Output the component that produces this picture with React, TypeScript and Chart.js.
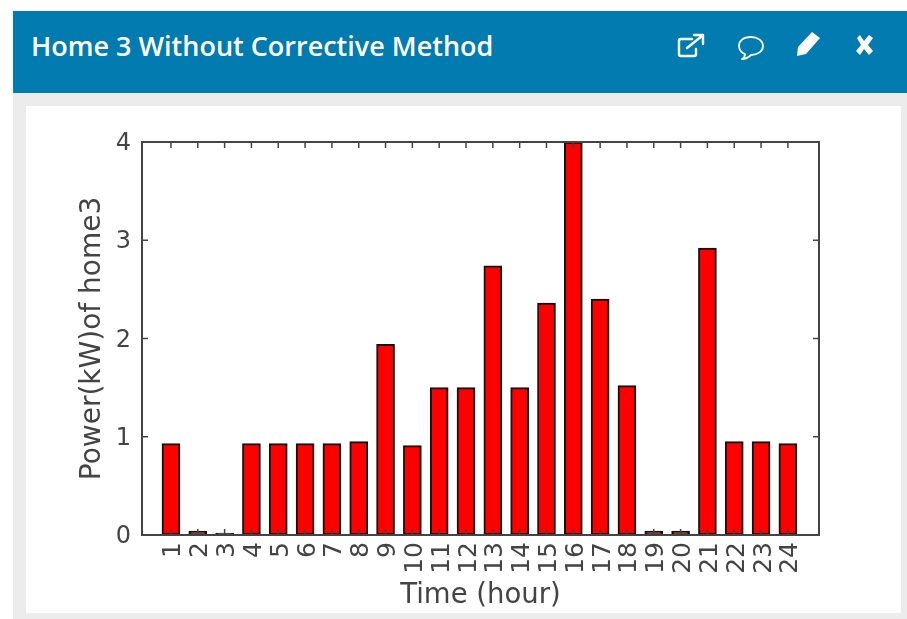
import React, { useEffect, useRef } from "react";
import { Chart, registerables } from "chart.js";

Chart.register(...registerables);

const hours = [1, 2, 3, 4, 5, 6, 7, 8, 9, 10, 11, 12, 13, 14, 15, 16, 17, 18, 19, 20, 21, 22, 23, 24];
const power = [0.93, 0.04, 0.02, 0.93, 0.93, 0.93, 0.93, 0.95, 1.94, 0.91, 1.5, 1.5, 2.74, 1.5, 2.36, 4, 2.4, 1.52, 0.04, 0.04, 2.92, 0.95, 0.95, 0.93];
const yTicks = [0, 1, 2, 3, 4];
const titleText = "Home 3 Without Corrective Method";
const xTitle = "Time (hour)";
const yTitle = "Power(kW)of home3";

const INK = "#444444";

const frame = {
  id: "frame",
  afterDatasetsDraw(chart: any) {
    const { ctx, chartArea: a, scales } = chart;
    ctx.save();
    ctx.strokeStyle = INK;
    ctx.lineWidth = 1.5;
    ctx.beginPath();
    const len = 6;
    hours.forEach((h) => {
      const x = scales.x.getPixelForValue(h);
      ctx.moveTo(x, a.bottom);
      ctx.lineTo(x, a.bottom - len);
      ctx.moveTo(x, a.top);
      ctx.lineTo(x, a.top + len);
    });
    yTicks.forEach((t) => {
      const y = scales.y.getPixelForValue(t);
      ctx.moveTo(a.left, y);
      ctx.lineTo(a.left + len, y);
      ctx.moveTo(a.right, y);
      ctx.lineTo(a.right - len, y);
    });
    ctx.stroke();
    ctx.lineWidth = 2;
    ctx.strokeRect(a.left, a.top, a.right - a.left, a.bottom - a.top);
    ctx.restore();
  },
};

export default function App() {
  const ref = useRef<HTMLCanvasElement>(null);
  useEffect(() => {
    const chart = new Chart(ref.current as HTMLCanvasElement, {
      type: "bar",
      data: {
        datasets: [
          {
            data: hours.map((h, i) => ({ x: h, y: power[i] })),
            backgroundColor: "#ff0000",
            borderColor: "#111111",
            borderWidth: 2,
            borderSkipped: false,
            barThickness: 18,
          },
        ],
      },
      options: {
        animation: false,
        responsive: false,
        layout: { padding: { left: 0, right: 88, top: 142, bottom: 0 } },
        plugins: { legend: { display: false }, tooltip: { enabled: false } },
        scales: {
          x: {
            type: "linear",
            offset: false,
            min: -0.08,
            max: 25.16,
            afterFit: (s: any) => { s.height = 84; },
            grid: { display: false, drawTicks: false },
            border: { display: false },
            title: {
              display: true,
              text: xTitle,
              color: INK,
              font: { family: "DejaVu Sans", size: 27.5 },
              padding: { top: 0, bottom: 7 },
            },
            ticks: {
              stepSize: 1,
              includeBounds: false,
              autoSkip: false,
              minRotation: 90,
              maxRotation: 90,
              padding: 7,
              labelOffset: 3,
              color: INK,
              font: { family: "DejaVu Sans", size: 25 },
              callback: (v: any) => (hours.includes(v) ? String(v) : ""),
            },
          },
          y: {
            min: 0,
            max: 4,
            afterFit: (s: any) => { s.width = 142; },
            grid: { display: false, drawTicks: false },
            border: { display: false },
            title: {
              display: true,
              text: yTitle,
              color: INK,
              font: { family: "DejaVu Sans", size: 28 },
              padding: { top: 76, bottom: 0 },
            },
            ticks: {
              stepSize: 1,
              padding: 11,
              labelOffset: 2,
              color: INK,
              font: { family: "DejaVu Sans", size: 24 },
            },
          },
        },
      },
      plugins: [frame],
    } as any);
    return () => chart.destroy();
  }, []);

  return (
    <div style={{ position: "fixed", inset: 0, background: "#ffffff", overflow: "hidden", filter: "blur(0.7px)" }}>
      <div style={{ position: "absolute", left: 13, top: 93, right: 0, bottom: 0, background: "#ececec" }} />
      <div style={{ position: "absolute", left: 26, top: 106, right: 6, height: 507, background: "#ffffff" }} />
      <div style={{ position: "absolute", left: 13, top: 11, right: 0, height: 82, background: "#027bb1" }} />
      <div
        style={{
          position: "absolute",
          left: 31,
          top: 27,
          color: "#ffffff",
          font: "600 27px 'Open Sans'",
          whiteSpace: "nowrap",
        }}
      >
        {titleText}
      </div>
      <svg width={907} height={100} style={{ position: "absolute", left: 0, top: 0 }}>
        <g fill="none" stroke="#ffffff" strokeWidth={2.4} strokeLinecap="round" strokeLinejoin="round">
          <path d="M692 39 H681 Q679 39 679 41 V54 Q679 56 681 56 H694 Q696 56 696 54 V49" />
          <path d="M687 48 L702 36 M694 35 H703 V44" />
          <path d="M751 37 C743 37 739 41 739 46 C739 50 742 53 745 54 C745 56 744 58 742 59 C746 59 749 57 751 55 C758 55 763 51 763 46 C763 41 758 37 751 37 Z" strokeWidth={1.8} />
        </g>
        <path d="M812 32 L820 38 L806 54 L797 56 L798 47 Z" fill="#ffffff" />
        <path d="M857 38 L860 35 L864 41 L869 35 L873 38 L868 45 L873 51 L869 55 L864 49 L860 55 L856 51 L861 45 Z" fill="#ffffff" />
      </svg>
      <canvas ref={ref} width={907} height={619} style={{ position: "absolute", left: 0, top: 0, display: "block" }} />
    </div>
  );
}
